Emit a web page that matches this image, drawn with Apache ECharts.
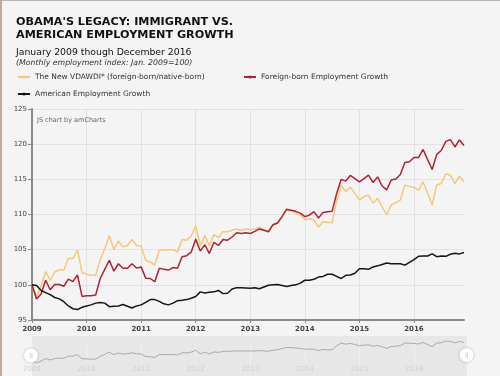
<!DOCTYPE html>
<html>
<head>
<meta charset="utf-8">
<script src="https://cdn.jsdelivr.net/npm/echarts@6/dist/echarts.min.js"></script>
<style>
  html, body { margin: 0; padding: 0; background: #f4f4f4; }
  #chart { width: 500px; height: 376px; }
</style>
</head>
<body>
<div id="chart"></div>
<script>
// ---- data ----
const years = ['2009','2010','2011','2012','2013','2014','2015','2016'];
const monthCodes = ['01','02','03','04','05','06','07','08','09','10','11','12'];
const seriesNames = [
  'The New VDAWDI* (foreign-born/native-born)',
  'Foreign-born Employment Growth',
  'American Employment Growth'
];
const vdawdi = [
  100.0, 98.3, 99.85, 101.9, 100.65, 101.85, 102.1, 102.1, 103.75, 103.75, 104.95, 101.75,
  101.5, 101.35, 101.35, 103.6, 105.1, 107.0, 105.0, 106.2, 105.4, 105.6, 106.45, 105.6,
  105.5, 103.5, 103.25, 102.8, 104.95, 105.0, 104.95, 105.0, 104.65, 106.45, 106.35, 106.9,
  108.4, 105.6, 107.0, 105.5, 107.15, 106.7, 107.6, 107.55, 107.75, 107.95, 107.75, 107.95,
  107.85, 107.9, 108.2, 107.85, 107.6, 108.55, 108.8, 109.8, 110.65, 110.5, 110.25, 109.9,
  109.25, 109.4, 109.25, 108.2, 109.0, 108.85, 108.85, 112.0, 114.2, 113.25, 113.9, 113.0,
  112.05, 112.55, 112.75, 111.6, 112.3, 111.1, 109.95, 111.35, 111.7, 112.05, 114.2, 114.0,
  113.85, 113.45, 114.65, 113.0, 111.35, 114.2, 114.4, 115.8, 115.6, 114.4, 115.45, 114.65
];
const foreignBorn = [
  100.0, 98.0, 98.7, 100.65, 99.3, 100.05, 100.05, 99.8, 100.8, 100.45, 101.4, 98.35,
  98.45, 98.45, 98.55, 100.9, 102.2, 103.5, 101.95, 103.0, 102.35, 102.35, 103.0, 102.4,
  102.55, 100.95, 100.9, 100.45, 102.35, 102.2, 102.1, 102.45, 102.35, 104.0, 104.15, 104.65,
  106.5, 104.8, 105.7, 104.45, 106.05, 105.6, 106.45, 106.35, 106.8, 107.4, 107.3, 107.4,
  107.3, 107.6, 107.95, 107.75, 107.55, 108.55, 108.8, 109.7, 110.75, 110.6, 110.45, 110.2,
  109.7, 109.9, 110.4, 109.5, 110.3, 110.4, 110.45, 113.0, 115.0, 114.75, 115.55, 115.1,
  114.65, 115.1, 115.6, 114.55, 115.35, 114.05, 113.5, 114.9, 115.05, 115.7, 117.4, 117.5,
  118.1, 118.1, 119.25, 117.8, 116.4, 118.55, 119.1, 120.4, 120.65, 119.6, 120.6, 119.8
];
const american = [
  100.0, 99.9, 99.2, 98.9, 98.6, 98.2, 98.0, 97.6, 97.0, 96.6, 96.5, 96.8,
  97.0, 97.15, 97.4, 97.5, 97.4, 96.9, 96.95, 97.0, 97.2, 96.95, 96.7, 97.0,
  97.15, 97.5, 97.9, 97.9, 97.65, 97.3, 97.15, 97.4, 97.75, 97.8, 97.9, 98.1,
  98.35, 99.0, 98.85, 98.95, 99.0, 99.2, 98.75, 98.8, 99.4, 99.6, 99.6, 99.55,
  99.5, 99.6, 99.45, 99.7, 99.95, 100.0, 100.05, 99.9, 99.75, 99.9, 100.0, 100.25,
  100.65, 100.65, 100.8, 101.1, 101.2, 101.5, 101.5, 101.2, 100.9, 101.35, 101.4, 101.65,
  102.3, 102.3, 102.2, 102.55, 102.7, 102.9, 103.1, 103.0, 103.0, 103.0, 102.8, 103.2,
  103.6, 104.05, 104.1, 104.1, 104.4, 104.0, 104.1, 104.05, 104.35, 104.5, 104.4, 104.6
];
const yMin = 95, yMax = 125, yStep = 5;

const categories = [];
years.forEach(y => monthCodes.forEach(m => categories.push(y + '-' + m)));

// ---- styles ----
const FONT = '"DejaVu Sans", Verdana, sans-serif';
const colors = ['#F4C77C', '#AE2331', '#151515'];
const gridColor = '#e2e2e2';

const chart = echarts.init(document.getElementById('chart'), null, { renderer: 'canvas' });

const option = {
  backgroundColor: '#f4f4f4',
  animation: false,
  textStyle: { fontFamily: FONT },
  title: [
    { text: "OBAMA'S LEGACY: IMMIGRANT VS.\nAMERICAN EMPLOYMENT GROWTH", left: 11, top: 10,
      textStyle: { fontFamily: FONT, fontSize: 11.2, fontWeight: 'bold', color: '#111', lineHeight: 13.5 } },
    { text: 'January 2009 though December 2016', left: 11, top: 43,
      textStyle: { fontFamily: FONT, fontSize: 9.3, fontWeight: 'normal', color: '#111' } },
    { text: '(Monthly employment index: Jan. 2009=100)', left: 11, top: 54,
      textStyle: { fontFamily: FONT, fontSize: 7.8, fontWeight: 'normal', fontStyle: 'italic', color: '#333' } },
    { text: 'JS chart by amCharts', left: 32, top: 112,
      textStyle: { fontFamily: FONT, fontSize: 6.5, fontWeight: 'normal', color: '#666' } }
  ],
  legend: [
    { data: [seriesNames[0]], left: 12, top: 68, itemWidth: 12, itemHeight: 4, itemGap: 4,
      textStyle: { fontFamily: FONT, fontSize: 7.5, color: '#333' } },
    { data: [seriesNames[1]], left: 238, top: 68, itemWidth: 12, itemHeight: 4, itemGap: 4,
      textStyle: { fontFamily: FONT, fontSize: 7.5, color: '#333' } },
    { data: [seriesNames[2]], left: 12, top: 85, itemWidth: 12, itemHeight: 4, itemGap: 4,
      textStyle: { fontFamily: FONT, fontSize: 7.5, color: '#333' } }
  ],
  grid: [
    { left: 32, right: 36, top: 109, bottom: 56 },
    { left: 32, right: 36, top: 341, height: 22 }
  ],
  xAxis: [
    { type: 'category', gridIndex: 0, data: categories, boundaryGap: false,
      axisLine: { lineStyle: { color: '#8a8a8a', width: 2 } },
      axisTick: { show: true, interval: 11, length: 3, lineStyle: { color: '#8a8a8a' } },
      axisLabel: { interval: 11, formatter: v => v.slice(0, 4), fontFamily: FONT, fontSize: 7,
        fontWeight: 'bold', color: '#444', margin: 6 },
      splitLine: { show: true, interval: 11, lineStyle: { color: gridColor, width: 1 } } },
    { type: 'category', gridIndex: 1, data: categories, boundaryGap: false,
      axisLine: { show: false }, axisTick: { show: false },
      axisLabel: { interval: 11, formatter: v => v.slice(0, 4), fontFamily: FONT, fontSize: 7,
        color: '#cfcfcf', margin: 3 },
      splitLine: { show: true, interval: 11, lineStyle: { color: '#f0f0f0', width: 1 } } }
  ],
  yAxis: [
    { type: 'value', gridIndex: 0, min: yMin, max: yMax, interval: yStep,
      axisLine: { show: true, lineStyle: { color: '#8a8a8a', width: 2 } },
      axisTick: { show: true, length: 4, lineStyle: { color: '#8a8a8a' } },
      axisLabel: { fontFamily: FONT, fontSize: 7, color: '#444', margin: 5 },
      splitLine: { show: true, lineStyle: { color: gridColor, width: 1 } } },
    { type: 'value', gridIndex: 1, min: 'dataMin', max: 'dataMax', show: false,
      splitLine: { show: false } }
  ],
  series: [
    { name: seriesNames[0], type: 'line', data: vdawdi, xAxisIndex: 0, yAxisIndex: 0,
      symbol: 'circle', symbolSize: 4, showSymbol: false,
      itemStyle: { color: colors[0] }, lineStyle: { color: colors[0], width: 1.5 } },
    { name: seriesNames[1], type: 'line', data: foreignBorn, xAxisIndex: 0, yAxisIndex: 0,
      symbol: 'circle', symbolSize: 4, showSymbol: false,
      itemStyle: { color: colors[1] }, lineStyle: { color: colors[1], width: 1.5 } },
    { name: seriesNames[2], type: 'line', data: american, xAxisIndex: 0, yAxisIndex: 0,
      symbol: 'circle', symbolSize: 4, showSymbol: false,
      itemStyle: { color: colors[2] }, lineStyle: { color: colors[2], width: 1.5 } },
    { name: 'scroll', type: 'line', data: vdawdi, xAxisIndex: 1, yAxisIndex: 1,
      symbol: 'none', silent: true,
      lineStyle: { color: '#a9a9a9', width: 1 } }
  ],
  graphic: [
    { type: 'rect', shape: { x: 32, y: 336, width: 435, height: 40 }, style: { fill: '#e7e7e7' }, z: -10, silent: true },
    { type: 'circle', shape: { cx: 31, cy: 355.5, r: 7 }, style: { fill: '#ffffff', shadowBlur: 3, shadowColor: 'rgba(0,0,0,0.25)' }, z: 100 },
    { type: 'line', shape: { x1: 30.5, y1: 353, x2: 30.5, y2: 358 }, style: { stroke: '#ccc', lineWidth: 0.8 }, z: 101 },
    { type: 'line', shape: { x1: 32, y1: 353, x2: 32, y2: 358 }, style: { stroke: '#ccc', lineWidth: 0.8 }, z: 101 },
    { type: 'circle', shape: { cx: 466.5, cy: 355, r: 7 }, style: { fill: '#ffffff', shadowBlur: 3, shadowColor: 'rgba(0,0,0,0.25)' }, z: 100 },
    { type: 'line', shape: { x1: 466, y1: 352.5, x2: 466, y2: 357.5 }, style: { stroke: '#ccc', lineWidth: 0.8 }, z: 101 },
    { type: 'line', shape: { x1: 467.5, y1: 352.5, x2: 467.5, y2: 357.5 }, style: { stroke: '#ccc', lineWidth: 0.8 }, z: 101 },
    { type: 'line', shape: { x1: 0, y1: 0.5, x2: 500, y2: 0.5 }, style: { stroke: '#b8b8b8', lineWidth: 1 }, z: 100 },
    { type: 'line', shape: { x1: 1, y1: 0, x2: 1, y2: 376 }, style: { stroke: '#c6a79c', lineWidth: 2 }, z: 100 }
  ]
};

chart.setOption(option);
</script>
</body>
</html>
